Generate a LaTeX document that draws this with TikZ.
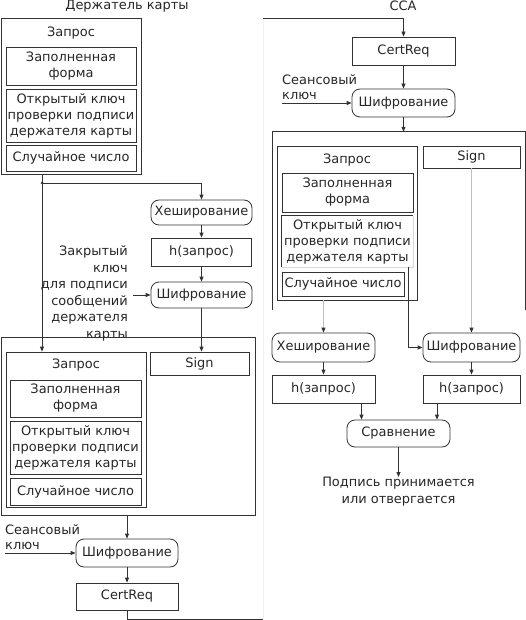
\documentclass[tikz,border=0pt]{standalone}
\usepackage{fontspec}
\setmainfont{DejaVu Sans}
\usetikzlibrary{arrows.meta}
\begin{document}
\begin{tikzpicture}[x=1bp,y=-1bp,
 every node/.style={font=\fontsize{13}{16}\selectfont, text=black!85},
 box/.style={draw=black!80, line width=0.8bp, inner sep=0pt, align=center},
 rbox/.style={box, rounded corners=8bp},
 lbl/.style={inner sep=0pt, align=center},
 ln/.style={draw=black!80, line width=0.8bp},
 arr/.style={ln, -{Triangle[length=5bp,width=4bp]}},
 garr/.style={draw=black!25, line width=0.8bp, -{Triangle[length=5bp,width=4bp,color=black!80]}}]
\useasboundingbox (0,0) rectangle (526,620);
% titles
\node[lbl] (t1) at (127,6) {Держатель карты};
\node[lbl] (t2) at (403,6) {ССА};
% ---------- top-left request
\node[box, minimum width=140bp, minimum height=156bp] (req1) at (71,96) {};
\node[lbl] (req1l) at (71,33) {Запрос};
\node[box, minimum width=130bp, minimum height=38bp] (form1) at (71,66) {Заполненная\\форма};
\node[box, minimum width=130bp, minimum height=53bp] (key1) at (71,115.5) {Открытый ключ\\проверки подписи\\держателя карты};
\node[box, minimum width=130bp, minimum height=26bp] (rnd1) at (71,158) {Случайное число};
\coordinate (dot) at (42,183);
\fill[black!80] (dot) circle (1.5bp);
% signing chain
\node[rbox, minimum width=101bp, minimum height=25bp] (hash1) at (201.5,212.5) {Хеширование};
\node[box, minimum width=100bp, minimum height=28bp] (h1) at (201.5,252) {h(запрос)};
\node[rbox, minimum width=101bp, minimum height=26bp] (enc1) at (201.5,295) {Шифрование};
\node[lbl, align=right, anchor=east, font=\fontsize{13}{16.5}\selectfont] (priv) at (128,293.5) {Закрытый\\ключ\\для подписи\\сообщений\\держателя\\карты};
\coordinate (pk) at (133,295);
% ---------- lower-left envelope
\node[box, minimum width=254bp, minimum height=178bp] (outer2) at (128,426) {};
\node[box, minimum width=140bp, minimum height=155bp] (req2) at (76,429.5) {};
\node[lbl] (req2l) at (76,365) {Запрос};
\node[box, minimum width=131bp, minimum height=37bp] (form2) at (75.5,398.5) {Заполненная\\форма};
\node[box, minimum width=131bp, minimum height=53bp] (key2) at (75.5,447.5) {Открытый ключ\\проверки подписи\\держателя карты};
\node[box, minimum width=131bp, minimum height=27bp] (rnd2) at (75.5,491.5) {Случайное число};
\node[box, minimum width=99bp, minimum height=23bp] (sign1) at (199.5,363.5) {Sign};
\node[rbox, minimum width=102bp, minimum height=28bp] (enc2) at (127,553) {Шифрование};
\node[lbl, anchor=west] (sk2) at (5,530) {Сеансовый};
\node[lbl, anchor=west] (sk2k) at (5,546) {ключ};
\coordinate (s2) at (5,553);
\node[box, minimum width=102bp, minimum height=27bp] (cert2) at (127,596.5) {CertReq};
\coordinate (c1) at (263,619);
\coordinate (c2) at (263,18.5);
% ---------- right side CCA
\node[box, minimum width=103bp, minimum height=28bp] (cert3) at (403.5,51) {CertReq};
\node[rbox, minimum width=103bp, minimum height=28bp] (enc3) at (403.5,103) {Шифрование};
\node[lbl, anchor=west] (sk3) at (282,80) {Сеансовый};
\node[lbl, anchor=west] (sk3k) at (282,96) {ключ};
\coordinate (s3) at (282,103);
\node[inner sep=0pt, minimum width=252bp, minimum height=178bp] (outer3) at (399,221) {};
\node[box, minimum width=140bp, minimum height=154bp] (req3) at (347,223) {};
\node[lbl] (req3l) at (347,160) {Запрос};
\node[box, minimum width=131bp, minimum height=39bp] (form3) at (347.5,192.5) {Заполненная\\форма};
\node[lbl, minimum width=131bp, minimum height=51bp] (key3) at (347.5,241.5) {Открытый ключ\\проверки подписи\\держателя карты};
\node[box, minimum width=122bp, minimum height=24bp] (rnd3) at (343,284) {Случайное число};
\node[box, minimum width=97bp, minimum height=22bp] (sign3) at (471.5,157) {Sign};
\coordinate (k3) at (408,267);
\node[rbox, minimum width=103bp, minimum height=29bp] (hash3) at (323.5,347.5) {Хеширование};
\node[rbox, minimum width=97bp, minimum height=29bp] (enc4) at (471.5,347.5) {Шифрование};
\node[box, minimum width=103bp, minimum height=28bp] (h3) at (323.5,389) {h(запрос)};
\node[box, minimum width=97bp, minimum height=28bp] (h4) at (471.5,389) {h(запрос)};
\node[rbox, minimum width=103bp, minimum height=27bp] (cmp) at (398.5,433.5) {Сравнение};
\node[lbl, anchor=north, font=\fontsize{13}{17}\selectfont] (res) at (398.5,477) {Подпись принимается\\или отвергается};
% ---------- connectors
\draw[arr] (req1.south -| dot) -- (req2.north -| dot);
\draw[arr] (dot) -| (hash1.north);
\draw[arr] (hash1) -- (h1);
\draw[arr] (h1) -- (enc1);
\draw[arr] (pk) -- (enc1.west);
\draw[arr] (enc1.south) -- (enc1.south |- sign1.north);
\draw[arr] (outer2.south -| enc2.north) -- (enc2.north);
\draw[arr] (s2) -- (enc2.west);
\draw[arr] (enc2) -- (cert2);
\draw[ln] (cert2.south) |- (c1);
\draw[draw=black!6, line width=0.8bp] (c1) -- (c2);
\draw[arr] (c2) -| (cert3.north);
\draw[arr] (cert3) -- (enc3);
\draw[arr] (s3) -- (enc3.west);
\draw[arr] (enc3.south) -- (enc3.south |- outer3.north);
\draw[ln] (outer3.south west) |- (outer3.north east) -- (outer3.south east);
\draw[ln] (key3.south west) |- (key3.north east);
\draw[draw=black!15, line width=0.8bp] (key3.north east) |- (key3.south west);
\draw[arr] (k3) |- (enc4.west);
\draw[garr] (req3.south -| hash3.north) -- (hash3.north);
\draw[garr] (sign3.south) -- (enc4.north);
\draw[arr] (hash3) -- (h3);
\draw[arr] (enc4) -- (h4);
\draw[arr] ([xshift=38bp]h3.south) -- ([xshift=38bp]h3.south |- cmp.north);
\draw[arr] ([xshift=-34.5bp]h4.south) -- ([xshift=-34.5bp]h4.south |- cmp.north);
\draw[arr] (cmp.south) -- (res.north);
\end{tikzpicture}
\end{document}
